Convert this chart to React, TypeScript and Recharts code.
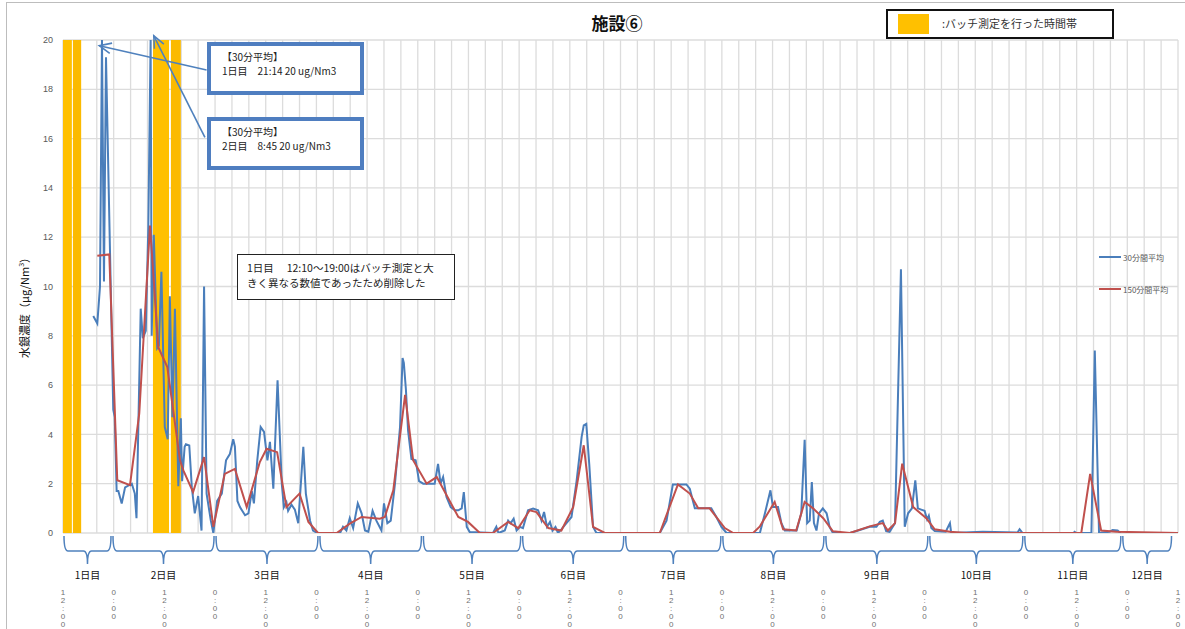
import React from 'react';
import { ComposedChart, Line, XAxis, YAxis, CartesianGrid, ReferenceArea, ReferenceLine } from 'recharts';

// hours since 1日目 12:00
const blueHours = [7.17, 8.12, 8.76, 9.23, 9.70, 10.18, 11.9, 12.25, 12.7, 13.1,
  13.9, 14.7, 16.3, 17.0, 17.4, 18.4, 18.9, 19.6, 20.2, 20.75,
  21.0, 21.5, 22.3, 22.7, 23.3, 24.1, 24.8, 25.3, 25.9, 26.5,
  27.3, 27.9, 28.2, 28.8, 29.1, 29.9, 30.5, 31.2, 32.0, 32.8,
  33.4, 34.0, 35.0, 35.6, 36.5, 37.6, 38.6, 39.5, 40.3, 40.7,
  41.3, 41.9, 43.1, 43.9, 44.7, 45.2, 46.0, 46.8, 47.6, 48.4,
  49.0, 49.8, 50.8, 51.8, 52.3, 52.9, 53.3, 54.1, 54.9, 55.7,
  56.9, 57.5, 58.5, 59.2, 60.2, 65.6, 66.3, 67.1, 67.9, 68.7,
  69.8, 70.7, 71.5, 72.3, 73.3, 74.2, 75.4, 76.0, 76.8, 77.6,
  78.6, 79.8, 80.4, 80.7, 81.2, 81.7, 82.5, 83.5, 84.3, 85.3,
  88.0, 88.8, 89.4, 90.0, 90.8, 91.8, 92.8, 93.6, 94.4, 94.9,
  95.6, 96.3, 101.8, 102.6, 103.1, 104.6, 105.4, 106.0, 106.7, 107.4,
  108.2, 108.9, 110.1, 111.3, 112.5, 113.3, 113.9, 114.6, 115.3, 115.9,
  116.6, 117.2, 118.0, 119.2, 120.4, 121.6, 122.8, 123.3, 123.9, 124.6,
  125.5, 126.3, 141.3, 142.9, 144.4, 147.6, 148.4, 149.6, 153.5, 154.7,
  155.9, 157.1, 165.0, 166.2, 167.5, 168.1, 169.3, 170.1, 170.9, 173.7,
  174.8, 175.6, 176.2, 176.8, 177.3, 177.8, 178.4, 179.0, 179.9, 180.8,
  181.5, 182.3, 186.3, 187.9, 191.0, 192.6, 193.4, 194.1, 194.9, 195.7,
  197.0, 198.4, 199.3, 200.1, 201.0, 201.8, 202.4, 203.2, 204.0, 204.6,
  205.0, 205.6, 206.4, 209.0, 210.0, 210.3, 217.8, 226.0, 226.5, 227.2,
  239.3, 239.5, 240.0, 243.5, 244.3, 245.3, 247.8, 248.5, 249.7, 250.4];
const blueValues = [8.8, 8.5, 10.0, 20, 10.2, 19.3, 5.0, 4.7, 1.7, 1.7,
  1.2, 1.85, 2.0, 1.6, 0.6, 9.1, 7.9, 8.2, 12.4, 20,
  8.0, 12.1, 7.5, 7.6, 10.6, 4.3, 3.8, 9.6, 4.7, 9.1,
  1.9, 4.65, 2.1, 3.5, 3.6, 3.55, 1.86, 0.8, 1.5, 0.1,
  10.0, 1.6, 0.5, 0.0, 1.3, 1.6, 2.95, 3.2, 3.8, 3.5,
  1.3, 1.05, 0.72, 0.8, 1.7, 1.2, 2.95, 4.3, 4.1, 2.95,
  3.7, 1.8, 6.2, 2.0, 1.05, 1.25, 0.9, 1.15, 0.95, 0.4,
  3.5, 1.6, 0.5, 0.1, 0, 0, 0.25, 0.1, 0.6, 0.2,
  1.2, 0.8, 0.1, 0.05, 0.9, 0.5, 0.1, 1.2, 0.4, 0.5,
  2.0, 4.3, 7.1, 6.9, 5.8, 4.16, 3.0, 2.95, 2.1, 2.0,
  2.0, 2.8, 2.0, 2.27, 1.46, 1.05, 0.92, 0.92, 1.0, 1.66,
  0.25, 0.04, 0, 0.25, 0, 0.1, 0.5, 0.4, 0.58, 0.1,
  0.25, 0.2, 0.92, 0.99, 0.92, 0.5, 0.85, 0.25, 0.45, 0.1,
  0.25, 0, 0.15, 0.4, 0.65, 2.1, 3.9, 4.37, 4.43, 2.8,
  0.25, 0, 0, 0.5, 1.97, 1.97, 1.8, 1.0, 1.0, 0.65,
  0.25, 0, 0, 0.8, 1.73, 1.05, 1.05, 0.4, 0.1, 0.1,
  0.8, 3.78, 0.4, 0.5, 2.07, 0.4, 0.1, 0.8, 1.0, 0.8,
  0.25, 0, 0, 0.08, 0.25, 0.25, 0.45, 0.5, 0.08, 0.05,
  0.4, 10.7, 0.25, 0.8, 1.0, 2.14, 1.0, 0.95, 0.9, 0.55,
  0.7, 0.2, 0.08, 0.05, 0.4, 0, 0.05, 0.02, 0.15, 0,
  0, 0.05, 0, 0, 7.4, 0, 0.05, 0.12, 0.1, 0];

const redHours = [8.12, 10.96, 12.85, 15.86, 18.06, 20.6, 22.56, 24.7, 27.7, 28.5,
  30.8, 33.4, 35.6, 38.3, 40.7, 43.5, 46.6, 48.2, 50.7, 52.9,
  56.0, 58.1, 60.4, 64.8, 67.9, 70.7, 75.0, 76.2, 78.2, 81.0,
  82.9, 86.1, 88.5, 93.6, 95.9, 98.7, 101.8, 105.4, 107.8, 110.5,
  112.1, 114.9, 118.0, 120.8, 123.3, 125.5, 128.3, 141.3, 145.6, 148.4,
  150.4, 153.1, 156.7, 158.7, 163.4, 165.0, 168.5, 170.5, 173.6, 175.6,
  177.6, 180.0, 182.3, 186.3, 191.0, 194.1, 195.3, 197.0, 198.7, 201.3,
  204.4, 206.4, 210.0, 213.9, 241.1, 243.2, 245.8, 249.4, 264];
const redValues = [11.25, 11.3, 2.14, 1.94, 4.85, 12.47, 7.54, 6.73, 2.95, 2.54,
  1.66, 3.08, 0.25, 2.4, 2.6, 1.05, 2.88, 3.42, 3.28, 1.05,
  1.6, 0.45, 0, 0, 0.38, 0.65, 0.58, 0.65, 1.73, 5.6,
  2.95, 2.0, 2.27, 0.65, 0.45, 0, 0, 0.45, 0.2, 0.92,
  0.85, 0.2, 0.1, 1.05, 3.56, 0.25, 0, 0, 1.97, 1.6,
  1.0, 1.0, 0.2, 0, 0, 0.27, 1.26, 0.15, 0.1, 1.26,
  1.0, 0.6, 0.07, 0, 0.27, 0.4, 0.1, 0.4, 2.81, 1.05,
  0.6, 0.15, 0.05, 0, 0, 2.4, 0.1, 0.05, 0];

const seriesNames = ['30分間平均', '150分間平均'];
const seriesColors = ['#4a7ebb', '#c0504d'];

const batchStart = [0, 2.35, 21.3, 25.55];
const batchEnd = [2.1, 4.3, 25.1, 27.9];

const dayLabels = ['1日目', '2日目', '3日目', '4日目', '5日目', '6日目', '7日目', '8日目', '9日目', '10日目', '11日目', '12日目'];
const dayBounds = [0, 11.6, 36, 60.6, 85.1, 108.6, 133, 156, 180.4, 205, 227.5, 250.7, 262.7];

const yTicks = [0, 2, 4, 6, 8, 10, 12, 14, 16, 18, 20];
const gridTicks = [0, 4, 8, 12, 16, 20, 24, 28, 32, 36, 40, 44, 48, 52, 56, 60, 64, 68, 72, 76, 80, 84, 88, 92, 96, 100,
  104, 108, 112, 116, 120, 124, 128, 132, 136, 140, 144, 148, 152, 156, 160, 164, 168, 172, 176, 180, 184, 188, 192, 196,
  200, 204, 208, 212, 216, 220, 224, 228, 232, 236, 240, 244, 248, 252, 256, 260, 264];
const majorTicks = [0, 12, 24, 36, 48, 60, 72, 84, 96, 108, 120, 132, 144, 156, 168, 180, 192, 204, 216, 228, 240, 252, 264];
const majorTickLabels = ['12:00', '0:00', '12:00', '0:00', '12:00', '0:00', '12:00', '0:00', '12:00', '0:00', '12:00', '0:00',
  '12:00', '0:00', '12:00', '0:00', '12:00', '0:00', '12:00', '0:00', '12:00', '0:00', '12:00'];

// annotation arrows: [startHour, startValue, tipHour, tipValue]
const arrowStartH = [34.0, 33.6];
const arrowStartV = [18.78, 16.05];
const arrowTipH = [8.6, 21.5];
const arrowTipV = [19.77, 20.17];

const blueData = blueHours.map((h, i) => ({ h, v: blueValues[i] }));
const redData = redHours.map((h, i) => ({ h, v: redValues[i] }));

const FONT = "'Noto Sans CJK JP', 'Noto Sans', sans-serif";
const BRACE = '#4f81bd';

const TimeTick = (props: any) => {
  const { x, y, payload } = props;
  const idx = majorTicks.indexOf(payload.value);
  if (idx < 0) return <g />;
  const chars = majorTickLabels[idx].split('');
  return (
    <text x={x} y={y} textAnchor="middle" fontSize={8} fill="#707070" fontFamily="'Liberation Sans', sans-serif">
      {chars.map((c: string, i: number) => (
        <tspan key={i} x={x} y={y + 62 + i * 8}>{c}</tspan>
      ))}
    </text>
  );
};

const ArrowShape = (props: any) => {
  const { x1, y1, x2, y2 } = props;
  const ang = Math.atan2(y2 - y1, x2 - x1);
  const len = 13;
  const sp = 0.42;
  const ax = x2 - len * Math.cos(ang - sp);
  const ay = y2 - len * Math.sin(ang - sp);
  const bx = x2 - len * Math.cos(ang + sp);
  const by = y2 - len * Math.sin(ang + sp);
  return (
    <g>
      <line x1={x1} y1={y1} x2={x2} y2={y2} stroke={BRACE} strokeWidth={1.6} />
      <polyline points={`${ax},${ay} ${x2},${y2} ${bx},${by}`} fill="none" stroke={BRACE} strokeWidth={1.6} />
    </g>
  );
};

const makeBrace = (label: string) => (props: any) => {
  const { x1, x2, y1 } = props;
  const a = x1 + 1;
  const b = x2 - 1;
  const mid = (a + b) / 2;
  const top = y1 + 3;
  const hy = y1 + 18;
  const bot = y1 + 31;
  const r = 4;
  const d = `M${a},${top} Q${a},${hy} ${a + r},${hy} L${mid - r},${hy} Q${mid},${hy} ${mid},${bot} Q${mid},${hy} ${mid + r},${hy} L${b - r},${hy} Q${b},${hy} ${b},${top}`;
  return (
    <g>
      <path d={d} fill="none" stroke={BRACE} strokeWidth={1.5} />
      <text x={mid} y={y1 + 46} textAnchor="middle" fontSize={10} fill="#111" fontFamily={FONT}>{label}</text>
    </g>
  );
};

const annBox: React.CSSProperties = {
  position: 'absolute',
  left: 207,
  width: 157,
  height: 53,
  boxSizing: 'border-box',
  border: '4px solid #4f7ec0',
  background: '#fff',
  fontFamily: FONT,
  fontSize: 10,
  lineHeight: '14px',
  color: '#222',
  padding: '4px 0 0 11px',
  whiteSpace: 'pre',
};

export default function App() {
  return (
    <div style={{ position: 'absolute', left: 0, top: 0, width: 1185, height: 629, background: '#fff', overflow: 'hidden' }}>
      <div style={{ position: 'absolute', left: 6, top: 2, width: 1300, height: 700, borderLeft: '1px solid #bdbdbd', borderTop: '1px solid #bdbdbd' }} />
      <ComposedChart width={1185} height={629} margin={{ top: 40, right: 7, bottom: 0, left: 0 }}>
        <CartesianGrid stroke="#dcdcdc" strokeWidth={1.3} />
        <XAxis
          dataKey="h"
          type="number"
          domain={[0, 264]}
          ticks={gridTicks}
          interval={0}
          allowDataOverflow
          axisLine={false}
          tickLine={false}
          tickSize={0}
          tickMargin={0}
          height={96}
          tick={<TimeTick />}
        />
        <YAxis
          type="number"
          domain={[0, 20]}
          ticks={yTicks}
          interval={0}
          allowDataOverflow
          axisLine={false}
          tickLine={false}
          tickSize={0}
          tickMargin={10}
          width={63}
          tick={{ fontSize: 9, fill: '#595959', fontFamily: "'Liberation Sans', sans-serif" }}
        />
        {batchStart.map((s, i) => (
          <ReferenceArea key={'b' + i} x1={s} x2={batchEnd[i]} y1={0} y2={20} fill={i % 2 === 0 ? '#FFC000' : '#FBBA00'} fillOpacity={1} stroke="none" ifOverflow="visible" />
        ))}
        <Line data={blueData} dataKey="v" name={seriesNames[0]} stroke={seriesColors[0]} strokeWidth={2} dot={false} isAnimationActive={false} type="linear" />
        <Line data={redData} dataKey="v" name={seriesNames[1]} stroke={seriesColors[1]} strokeWidth={2} dot={false} isAnimationActive={false} type="linear" />
        {dayLabels.map((lab, i) => (
          <ReferenceLine
            key={'d' + i}
            segment={[{ x: dayBounds[i], y: 0 }, { x: dayBounds[i + 1], y: 0 }]}
            ifOverflow="visible"
            shape={makeBrace(lab)}
          />
        ))}
        {arrowStartH.map((s, i) => (
          <ReferenceLine
            key={'a' + i}
            segment={[{ x: s, y: arrowStartV[i] }, { x: arrowTipH[i], y: arrowTipV[i] }]}
            ifOverflow="visible"
            shape={ArrowShape}
          />
        ))}
      </ComposedChart>

      {/* title */}
      <div style={{ position: 'absolute', left: 517, width: 200, top: 10, textAlign: 'center', fontFamily: FONT, fontSize: 17, fontWeight: 700, color: '#111' }}>施設⑥</div>

      {/* batch legend */}
      <div style={{ position: 'absolute', left: 886, top: 9, width: 228, height: 30, boxSizing: 'border-box', border: '2px solid #111', background: '#fff' }}>
        <div style={{ position: 'absolute', left: 10, top: 3, width: 31, height: 20, background: '#FFC000' }} />
        <div style={{ position: 'absolute', left: 54, top: 5, fontFamily: FONT, fontSize: 11, lineHeight: '14px', color: '#333', whiteSpace: 'nowrap' }}>:バッチ測定を行った時間帯</div>
      </div>

      {/* annotation boxes */}
      <div style={{ ...annBox, top: 42 }}>{'【30分平均】\n1日目　21:14 20 ug/Nm3'}</div>
      <div style={{ ...annBox, top: 117 }}>{'【30分平均】\n2日目　8:45 20 ug/Nm3'}</div>

      {/* note box */}
      <div style={{ position: 'absolute', left: 237, top: 254, width: 218, height: 46, boxSizing: 'border-box', border: '1px solid #222', background: '#fff', fontFamily: FONT, fontSize: 10.5, lineHeight: '15px', color: '#222', padding: '5px 0 0 9px', whiteSpace: 'pre' }}>
        {'1日目　 12:10～19:00はバッチ測定と大\nきく異なる数値であったため削除した'}
      </div>

      {/* series legend */}
      {seriesNames.map((n, i) => (
        <div key={n} style={{ position: 'absolute', left: 1099, top: 250 + i * 32, height: 14, display: 'flex', alignItems: 'center', whiteSpace: 'nowrap' }}>
          <div style={{ width: 22, height: 2, background: seriesColors[i], marginRight: 2 }} />
          <span style={{ fontFamily: FONT, fontSize: 8, color: '#595959' }}>{n}</span>
        </div>
      ))}

      {/* y axis title */}
      <div style={{ position: 'absolute', left: 24, top: 305, transform: 'translate(-50%, -50%) rotate(-90deg)', fontFamily: FONT, fontSize: 11, color: '#111', whiteSpace: 'nowrap' }}>
        水銀濃度（μg/Nm<sup style={{ fontSize: 7 }}>3</sup>）
      </div>
    </div>
  );
}
